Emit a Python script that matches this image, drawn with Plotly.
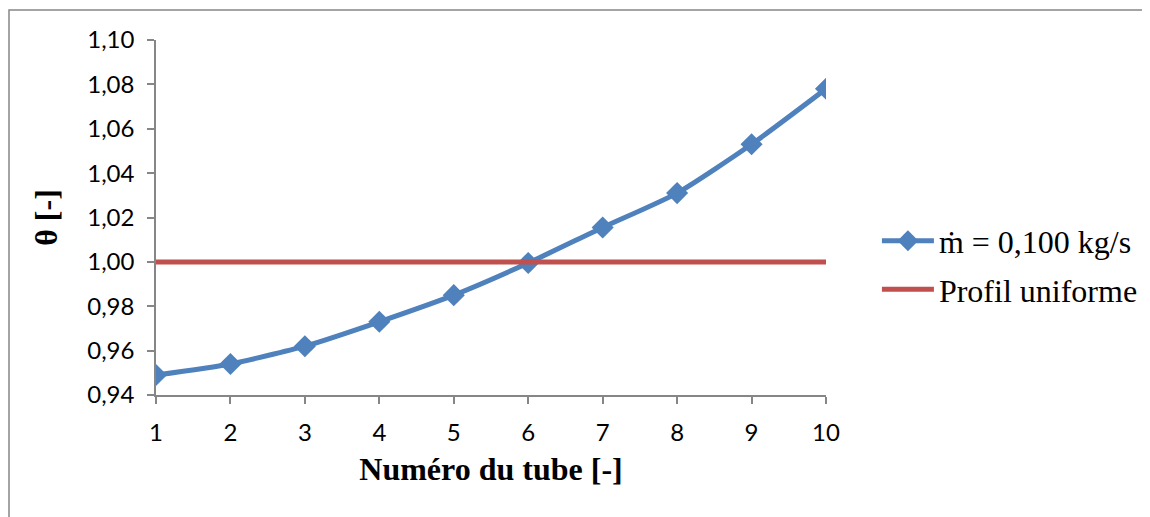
import plotly.graph_objects as go

tubes = [1, 2, 3, 4, 5, 6, 7, 8, 9, 10]
theta = [0.949, 0.954, 0.962, 0.973, 0.985, 0.9995, 1.0155, 1.031, 1.053, 1.078]
uniform = [1.0] * len(tubes)
y_ticks = [0.94, 0.96, 0.98, 1.00, 1.02, 1.04, 1.06, 1.08, 1.10]

fig = go.Figure()
fig.add_trace(go.Scatter(
    x=tubes, y=theta, mode='lines+markers', name='ṁ = 0,100 kg/s', legendgroup='a',
    line=dict(color='#4F81BD', width=5, shape='spline', smoothing=0.6),
    marker=dict(symbol='diamond', size=17, color='#4F81BD'),
))
fig.add_trace(go.Scatter(
    x=tubes, y=uniform, mode='lines', name='Profil uniforme', legendgroup='b',
    line=dict(color='#C0504D', width=5),
))

axis_font = dict(family='Lato, Open Sans, sans-serif', size=24, color='black')
title_font = dict(family='Liberation Serif, serif', size=32, color='black')

fig.update_xaxes(
    range=[1, 10], tickvals=tubes, showgrid=False, zeroline=False,
    showline=True, linecolor='#868686', linewidth=1.5,
    ticks='outside', ticklen=7, tickcolor='#868686', tickwidth=1.5,
    tickfont=axis_font, ticklabelstandoff=8,
    title=dict(text='<b>Numéro du tube [-]</b>', font=title_font, standoff=13),
)
fig.update_yaxes(
    range=[0.94, 1.10], tickvals=y_ticks, tickformat='.2f', showgrid=False, zeroline=False,
    showline=True, linecolor='#868686', linewidth=1.5,
    ticks='outside', ticklen=7, tickcolor='#868686', tickwidth=1.5,
    tickfont=axis_font, ticklabelstandoff=8,
    title=dict(text='<b>θ [-]</b>', font=title_font, standoff=20),
)

fig.update_layout(
    width=1142, height=509, separators=',.',
    plot_bgcolor='white', paper_bgcolor='white',
    margin=dict(l=148, r=324, t=32, b=122, autoexpand=False),
    legend=dict(x=1.076, y=0.365, xanchor='left', yanchor='middle',
                font=dict(family='Liberation Serif, serif', size=32, color='black'),
                itemwidth=52, traceorder='grouped', tracegroupgap=4,
                bgcolor='rgba(0,0,0,0)'),
    shapes=[dict(type='rect', xref='paper', yref='paper',
                 x0=-0.2194, x1=2.5, y0=-0.8, y1=1.0845,
                 line=dict(color='#868686', width=1.5), layer='below')],
)

fig.write_html("out.html")
